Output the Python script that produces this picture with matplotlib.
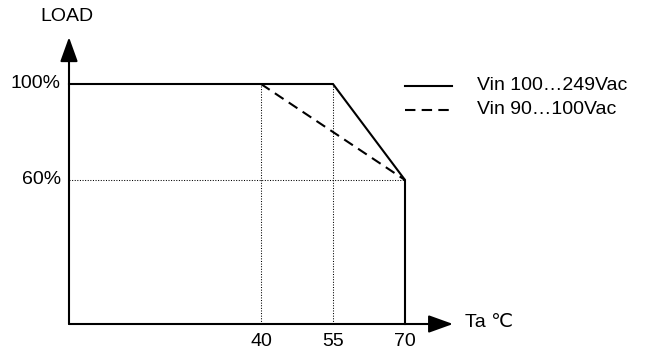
import matplotlib
matplotlib.use("Agg")
import matplotlib.pyplot as plt

plt.rcParams['font.family'] = ['Liberation Sans', 'DejaVu Sans']

# Data
temp_solid = [0, 55, 70, 70]
load_solid = [100, 100, 60, 0]
temp_dashed = [40, 70]
load_dashed = [100, 60]
x_ticks = [40, 55, 70]
y_ticks = [60, 100]
y_tick_labels = ["60%", "100%"]
legend_labels = ["Vin 100…249Vac", "Vin 90…100Vac"]

fig = plt.figure(figsize=(6.45, 3.52), dpi=100)
ax = fig.add_axes([0, 0, 1, 1])
ax.set_xlim(-69 / 4.8, (645 - 69) / 4.8)
ax.set_ylim(-(352 - 324) / 2.4, 324 / 2.4)
ax.axis('off')

fs = 14
lw = 1.5

# Axes arrows
arrow_kw = dict(arrowstyle='-|>,head_length=0.75,head_width=0.27', lw=lw, color='black',
                mutation_scale=20, shrinkA=0, shrinkB=0)
ax.annotate('', xy=(0, 119.5), xytext=(0, 0), arrowprops=arrow_kw)
ax.annotate('', xy=(80, 0), xytext=(0, 0), arrowprops=arrow_kw)

# Dotted guide lines
dot_kw = dict(color='black', lw=0.75, linestyle=(0, (1, 1.5)))
for t in x_ticks[:2]:
    ax.plot([t, t], [0, 100], **dot_kw)
ax.plot([0, 70], [60, 60], **dot_kw)

# Curves
ax.plot(temp_solid, load_solid, color='black', lw=lw, solid_joinstyle='miter')
ax.plot(temp_dashed, load_dashed, color='black', lw=lw, linestyle=(0, (5, 3)))

# Tick labels
for t in x_ticks:
    ax.text(t, -7.3, str(t), ha='center', va='center', fontsize=fs)
for v, lab in zip(y_ticks, y_tick_labels):
    ax.text(-1.7, v, lab, ha='right', va='center', fontsize=fs)

# Axis labels
ax.text(-0.4, 128, "LOAD", ha='center', va='center', fontsize=fs)
ax.text(82.5, 0.5, "Ta ℃", ha='left', va='center', fontsize=fs)

# Legend (manual)
ax.plot([70, 79.8], [99.2, 99.2], color='black', lw=lw)
ax.plot([70, 79.8], [89.2, 89.2], color='black', lw=lw, linestyle=(0, (5, 3)))
ax.text(85, 99.2, legend_labels[0], ha='left', va='center', fontsize=fs)
ax.text(85, 89.2, legend_labels[1], ha='left', va='center', fontsize=fs)

fig.savefig("out.png", dpi=100)
